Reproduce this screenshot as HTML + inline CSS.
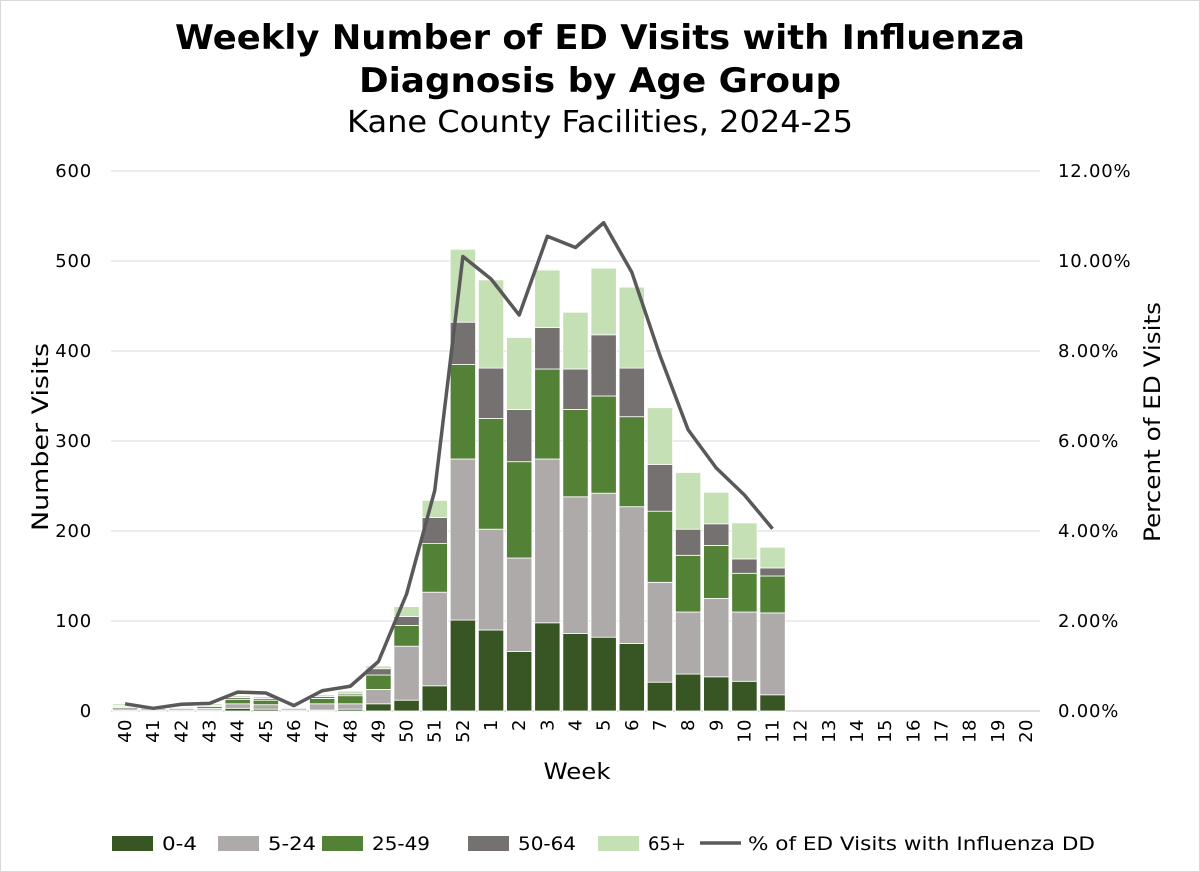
<!DOCTYPE html>
<html><head><meta charset="utf-8"><style>
html,body{margin:0;padding:0;background:#fff}
svg{display:block;font-family:"DejaVu Sans","Liberation Sans",sans-serif}
</style></head><body>
<svg id="chart" width="1200" height="872" viewBox="0 0 1200 872" xmlns="http://www.w3.org/2000/svg">
<rect x="0.5" y="0.5" width="1199" height="871" fill="#fff" stroke="#d9d9d9"/>
<text x="600" y="49" text-anchor="middle" font-size="34" font-weight="bold" textLength="850" lengthAdjust="spacingAndGlyphs">Weekly Number of ED Visits with Influenza</text>
<text x="600" y="92" text-anchor="middle" font-size="34" font-weight="bold" textLength="482" lengthAdjust="spacingAndGlyphs">Diagnosis by Age Group</text>
<text x="600" y="132" text-anchor="middle" font-size="30" textLength="506" lengthAdjust="spacingAndGlyphs">Kane County Facilities, 2024-25</text>
<g id="grid"></g><g id="bars"></g><g id="line"></g><g id="axes"></g>
<text x="577" y="779" text-anchor="middle" font-size="22" textLength="67" lengthAdjust="spacingAndGlyphs">Week</text>
<text transform="translate(48,437) rotate(-90)" text-anchor="middle" font-size="22" textLength="188" lengthAdjust="spacingAndGlyphs">Number Visits</text>
<text transform="translate(1160,422) rotate(-90)" text-anchor="middle" font-size="22" textLength="240" lengthAdjust="spacingAndGlyphs">Percent of ED Visits</text>
<g id="legend"></g>
</svg>
<script>
const weeks=["40","41","42","43","44","45","46","47","48","49","50","51","52","1","2","3","4","5","6","7","8","9","10","11","12","13","14","15","16","17","18","19","20"];
const age0_4=[1,1,1,1,3,2,1,1,2,8,12,28,101,90,66,98,86,82,75,32,41,38,33,18];
const age5_24=[3,2,2,2,5,5,2,7,6,16,60,104,179,112,104,182,152,160,152,111,69,87,77,91];
const age25_49=[1,1,1,2,5,5,1,6,9,16,23,54,105,123,107,100,97,108,100,79,63,59,43,41];
const age50_64=[1,0,1,1,2,2,0,2,2,7,10,29,47,56,58,46,45,68,54,52,29,24,16,9];
const age65p=[2,1,2,2,2,2,1,2,3,3,11,19,81,98,80,64,63,74,90,63,63,35,40,23];
const pctED=[0.16,0.06,0.15,0.17,0.42,0.40,0.12,0.45,0.55,1.1,2.6,4.9,10.1,9.6,8.8,10.55,10.3,10.85,9.75,7.9,6.25,5.4,4.8,4.05];
const yTicks=[0,100,200,300,400,500,600];
const y2Ticks=["0.00%","2.00%","4.00%","6.00%","8.00%","10.00%","12.00%"];
const seriesNames=["0-4","5-24","25-49","50-64","65+"];
const NS="http://www.w3.org/2000/svg";
const L=111,R=1040,T=171,B=711;
const bw=(R-L)/weeks.length;
const y=v=>B-(v/600)*(B-T);
const y2=p=>B-(p/12)*(B-T);
const xc=i=>L+bw*(i+0.5);
function mk(tag,attrs,parent){const e=document.createElementNS(NS,tag);for(const k in attrs)e.setAttribute(k,attrs[k]);parent.appendChild(e);return e;}
const grid=document.getElementById('grid'),axes=document.getElementById('axes');
yTicks.forEach((t,i)=>{
 const g=mk('line',{x1:L,x2:R,y1:y(t),y2:y(t),stroke:i==0?'#bfbfbf':'#d9d9d9','stroke-width':1},grid);
 
 
 const a=mk('text',{x:92,y:y(t)+6,'text-anchor':'end','font-size':18,'letter-spacing':0.8},axes);a.textContent=t;
 
 
 const b=mk('text',{x:1058,y:y(t)+6,'font-size':18,'letter-spacing':0.8},axes);b.textContent=y2Ticks[i];
 
 
});
weeks.forEach((w,i)=>{
 const t=mk('text',{transform:`translate(${xc(i)+6},719) rotate(-90)`,'text-anchor':'end','font-size':18,'letter-spacing':0.5},axes);t.textContent=w;
 
 
});
const series=[age0_4,age5_24,age25_49,age50_64,age65p];
const colors=["#375623","#aeaaaa","#538135","#767171","#c5e0b4"];
const bars=document.getElementById('bars');
const barW=bw*0.9;
weeks.forEach((w,i)=>{
 let cum=0;
 series.forEach((s,k)=>{
  const v=s[i]||0;if(!v)return;
  const r=mk('rect',{x:xc(i)-barW/2,y:y(cum+v),width:barW,height:y(cum)-y(cum+v),fill:colors[k],stroke:'#fff','stroke-width':0.8},bars);
  
  
  cum+=v;
 });
});
const pts=pctED.map((p,i)=>xc(i)+','+y2(p)).join(' ');
const pl=mk('polyline',{points:pts,fill:'none',stroke:'#595959','stroke-width':3.5,'stroke-linejoin':'round'},document.getElementById('line'));


const leg=document.getElementById('legend');
const legX=[112,218,322,468,598];
const legW=[35,48,58,58,38];
seriesNames.forEach((n,k)=>{
 const r=mk('rect',{x:legX[k],y:836,width:41,height:15,fill:colors[k]},leg);
 
 
 const t=mk('text',{x:legX[k]+50,y:850,'font-size':19,textLength:legW[k],lengthAdjust:'spacingAndGlyphs'},leg);t.textContent=n;
 
 
});
const ll=mk('line',{x1:700,x2:741,y1:843,y2:843,stroke:'#595959','stroke-width':3.5},leg);


const lt=mk('text',{x:748,y:850,'font-size':19,textLength:347,lengthAdjust:'spacingAndGlyphs'},leg);lt.textContent="% of ED Visits with Influenza DD";


</script>
</body></html>
